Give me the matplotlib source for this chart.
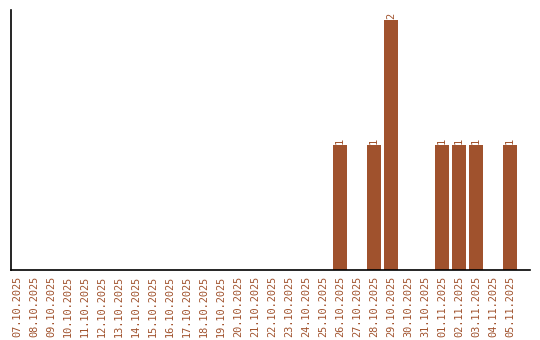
import matplotlib
matplotlib.use("Agg")
import matplotlib.pyplot as plt

dates = ["07.10.2025", "08.10.2025", "09.10.2025", "10.10.2025", "11.10.2025",
         "12.10.2025", "13.10.2025", "14.10.2025", "15.10.2025", "16.10.2025",
         "17.10.2025", "18.10.2025", "19.10.2025", "20.10.2025", "21.10.2025",
         "22.10.2025", "23.10.2025", "24.10.2025", "25.10.2025", "26.10.2025",
         "27.10.2025", "28.10.2025", "29.10.2025", "30.10.2025", "31.10.2025",
         "01.11.2025", "02.11.2025", "03.11.2025", "04.11.2025", "05.11.2025"]
counts = [0, 0, 0, 0, 0, 0, 0, 0, 0, 0,
          0, 0, 0, 0, 0, 0, 0, 0, 0, 1,
          0, 1, 2, 0, 0, 1, 1, 1, 0, 1]

color = "#A0522D"
fig = plt.figure(figsize=(5.4, 3.4), dpi=100)
ax = fig.add_axes([11/540, 70/340, 519/540, 260/340])
x = list(range(len(dates)))
ax.bar(x, counts, width=0.82, color=color)
for xi, c in zip(x, counts):
    if c > 0:
        ax.text(xi, c + 0.01, str(c), rotation=90, ha="center", va="bottom",
                color=color, fontsize=7.5, family="DejaVu Sans Mono")
ax.set_xlim(-0.35, 30.18)
ax.set_ylim(0, 2.08)
ax.set_xticks(x)
ax.set_xticklabels(dates, rotation=90, color=color, fontsize=7.4, family="DejaVu Sans Mono")
ax.tick_params(axis="x", length=0, pad=4)
ax.set_yticks([])
for s in ["top", "right"]:
    ax.spines[s].set_visible(False)
ax.spines["left"].set_linewidth(1.2)
ax.spines["bottom"].set_linewidth(1.2)
fig.savefig("out.png", dpi=100)
